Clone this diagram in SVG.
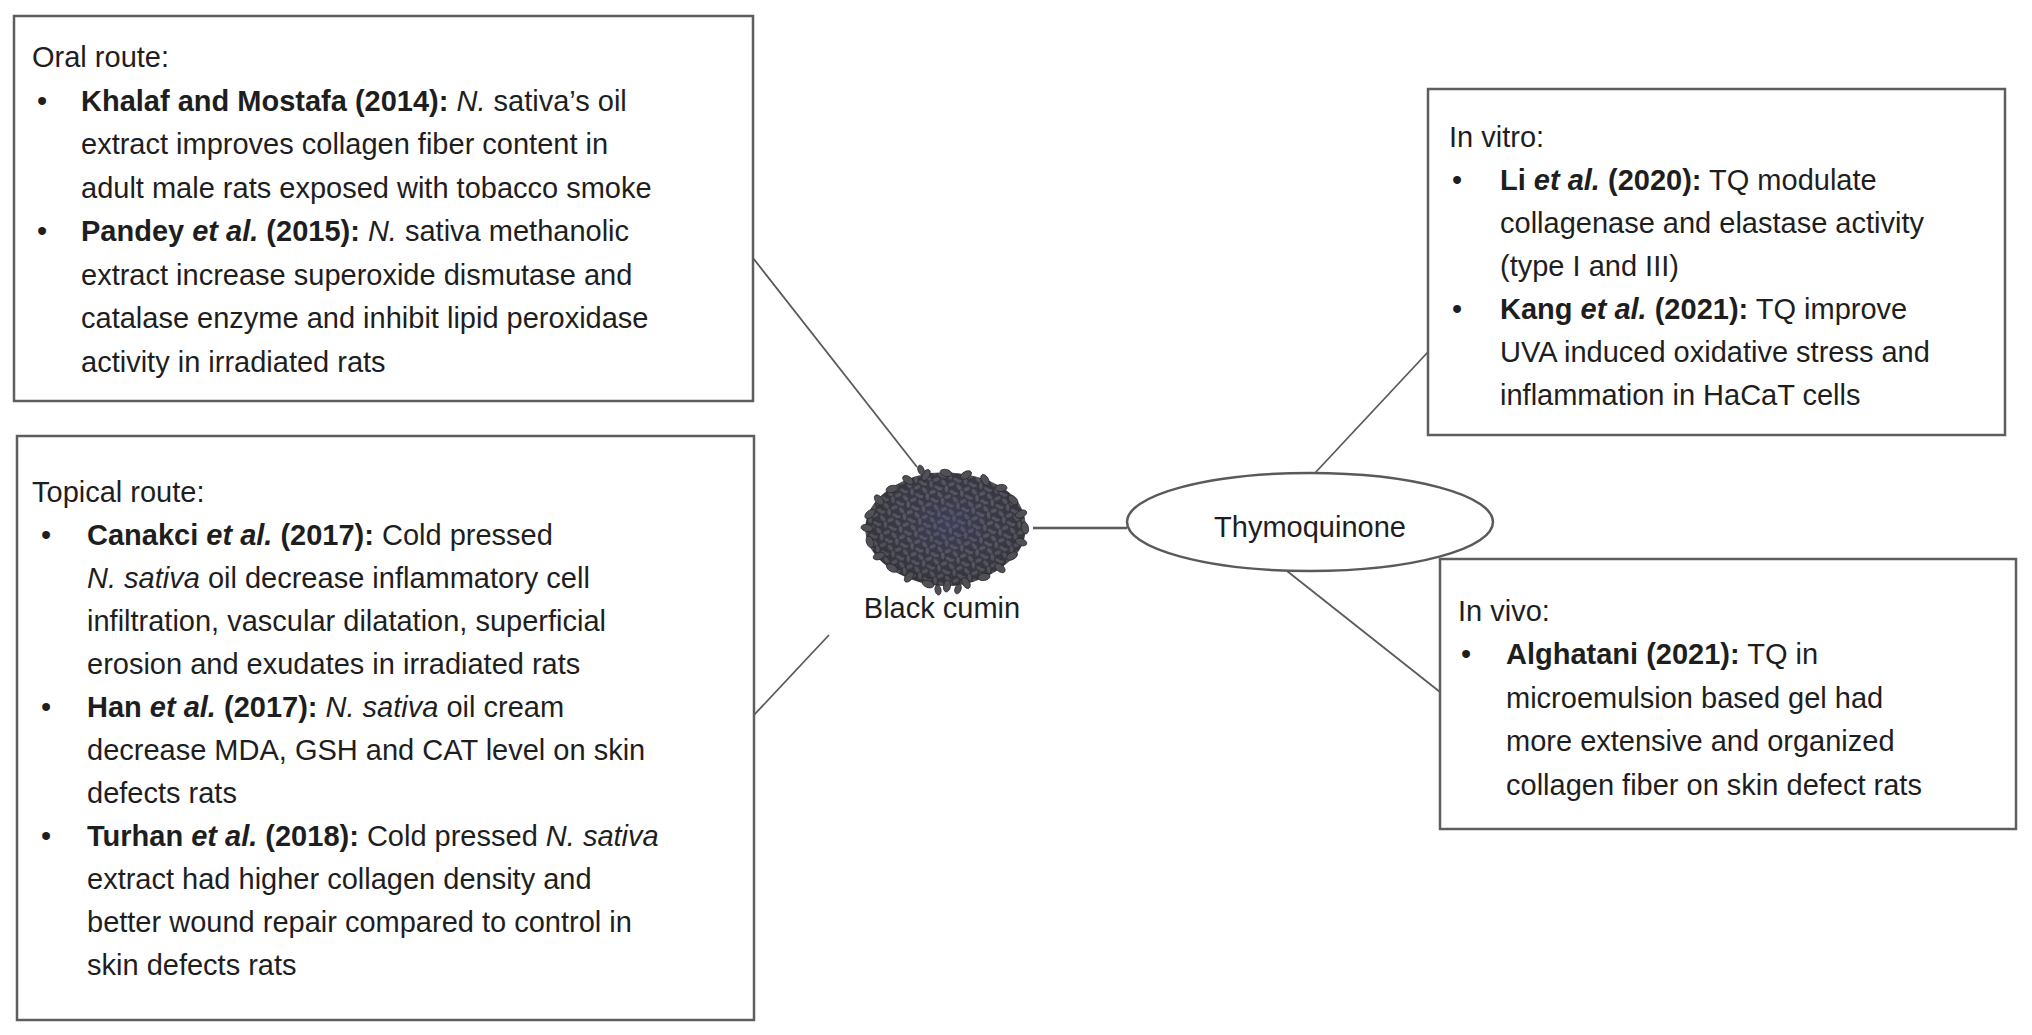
<svg xmlns="http://www.w3.org/2000/svg" width="2032" height="1035" viewBox="0 0 2032 1035">
<style>
.t{font-family:"Liberation Sans",Arial,sans-serif;font-size:29px;fill:#1e1e1e}
.b{font-weight:bold}
.i{font-style:italic}
.box{fill:#fff;stroke:#5e5e5e;stroke-width:2.5}
.conn{stroke:#5a5a5a;stroke-width:1.8;fill:none}
.seed{fill:#5e5e68;stroke:#2e2e34;stroke-width:0.8}
</style>
<defs>
<pattern id="seeds" width="16" height="13" patternUnits="userSpaceOnUse" patternTransform="rotate(17)">
<rect width="16" height="13" fill="#3a3a40"/>
<ellipse class="seed" cx="3.6" cy="3.6" rx="4" ry="2.4" transform="rotate(30 3.6 3.6)" fill="#64647a"/>
<ellipse class="seed" cx="11.6" cy="2.9" rx="4" ry="2.4" transform="rotate(-40 11.6 2.9)"/>
<ellipse class="seed" cx="8" cy="8.7" rx="4" ry="2.4" transform="rotate(70 8 8.7)" fill="#606076"/>
<ellipse class="seed" cx="14.5" cy="10.1" rx="3.6" ry="2.2" transform="rotate(10 14.5 10.1)"/>
<ellipse class="seed" cx="1.4" cy="10.8" rx="3.6" ry="2.2" transform="rotate(-20 1.4 10.8)"/>
</pattern>
<radialGradient id="shade" cx="0.52" cy="0.45" r="0.55">
<stop offset="0" stop-color="#45457a" stop-opacity="0.4"/>
<stop offset="0.55" stop-color="#3a3a5a" stop-opacity="0.2"/>
<stop offset="1" stop-color="#222" stop-opacity="0.25"/>
</radialGradient>
</defs>
<rect width="2032" height="1035" fill="#fff"/>

<g id="connectors">
<line class="conn" x1="753" y1="258" x2="917" y2="467"/>
<line class="conn" x1="754" y1="715" x2="829" y2="635"/>
<line class="conn" x1="1033" y1="528" x2="1127" y2="528" style="stroke-width:2.5"/>
<line class="conn" x1="1315" y1="473" x2="1428" y2="352"/>
<line class="conn" x1="1287" y1="571" x2="1440" y2="692"/>
</g>

<g id="oral">
<rect class="box" x="14" y="16" width="739" height="385"/>
<text class="t" x="32" y="67">Oral route:</text>
<text class="t" x="37" y="111">•</text>
<text class="t" x="81" y="111"><tspan class="b">Khalaf and Mostafa (2014):</tspan> <tspan class="i">N.</tspan> sativa’s oil</text>
<text class="t" x="81" y="154">extract improves collagen fiber content in</text>
<text class="t" x="81" y="198">adult male rats exposed with tobacco smoke</text>
<text class="t" x="37" y="241">•</text>
<text class="t" x="81" y="241"><tspan class="b">Pandey <tspan class="i">et al.</tspan> (2015):</tspan> <tspan class="i">N.</tspan> sativa methanolic</text>
<text class="t" x="81" y="285">extract increase superoxide dismutase and</text>
<text class="t" x="81" y="328">catalase enzyme and inhibit lipid peroxidase</text>
<text class="t" x="81" y="372">activity in irradiated rats</text>
</g>

<g id="topical">
<rect class="box" x="17" y="436" width="737" height="584"/>
<text class="t" x="32" y="502">Topical route:</text>
<text class="t" x="41" y="545">•</text>
<text class="t" x="87" y="545"><tspan class="b">Canakci <tspan class="i">et al.</tspan> (2017):</tspan> Cold pressed</text>
<text class="t" x="87" y="588"><tspan class="i">N. sativa</tspan> oil decrease inflammatory cell</text>
<text class="t" x="87" y="631">infiltration, vascular dilatation, superficial</text>
<text class="t" x="87" y="674">erosion and exudates in irradiated rats</text>
<text class="t" x="41" y="717">•</text>
<text class="t" x="87" y="717"><tspan class="b">Han <tspan class="i">et al.</tspan> (2017):</tspan> <tspan class="i">N. sativa</tspan> oil cream</text>
<text class="t" x="87" y="760">decrease MDA, GSH and CAT level on skin</text>
<text class="t" x="87" y="803">defects rats</text>
<text class="t" x="41" y="846">•</text>
<text class="t" x="87" y="846"><tspan class="b">Turhan <tspan class="i">et al.</tspan> (2018):</tspan> Cold pressed <tspan class="i">N. sativa</tspan></text>
<text class="t" x="87" y="889">extract had higher collagen density and</text>
<text class="t" x="87" y="932">better wound repair compared to control in</text>
<text class="t" x="87" y="975">skin defects rats</text>
</g>

<g id="black-cumin">
<path d="M868,515 C875,495 900,478 930,473 C960,470 995,478 1012,495 C1028,510 1030,535 1018,552 C1002,572 975,585 950,586 C922,587 895,575 880,560 C866,546 862,530 868,515 Z" fill="url(#seeds)"/>
<path d="M868,515 C875,495 900,478 930,473 C960,470 995,478 1012,495 C1028,510 1030,535 1018,552 C1002,572 975,585 950,586 C922,587 895,575 880,560 C866,546 862,530 868,515 Z" fill="url(#shade)"/>
<g fill="#505056" stroke="#2a2a2e" stroke-width="0.8">
<ellipse cx="1025" cy="528" rx="6" ry="3.5" transform="rotate(80 1025 528)"/>
<ellipse cx="1021" cy="542" rx="6" ry="3.5" transform="rotate(20 1021 542)"/>
<ellipse cx="1012" cy="556" rx="6" ry="3.5" transform="rotate(-30 1012 556)"/>
<ellipse cx="1000" cy="568" rx="6" ry="3.5" transform="rotate(40 1000 568)"/>
<ellipse cx="984" cy="577" rx="6" ry="3.5" transform="rotate(-10 984 577)"/>
<ellipse cx="966" cy="583" rx="6" ry="3.5" transform="rotate(60 966 583)"/>
<ellipse cx="947" cy="586" rx="6" ry="3.5" transform="rotate(100 947 586)"/>
<ellipse cx="928" cy="584" rx="6" ry="3.5" transform="rotate(20 928 584)"/>
<ellipse cx="909" cy="577" rx="6" ry="3.5" transform="rotate(-50 909 577)"/>
<ellipse cx="892" cy="568" rx="6" ry="3.5" transform="rotate(30 892 568)"/>
<ellipse cx="879" cy="556" rx="6" ry="3.5" transform="rotate(-20 879 556)"/>
<ellipse cx="870" cy="542" rx="6" ry="3.5" transform="rotate(70 870 542)"/>
<ellipse cx="867" cy="528" rx="6" ry="3.5" transform="rotate(10 867 528)"/>
<ellipse cx="870" cy="514" rx="6" ry="3.5" transform="rotate(-40 870 514)"/>
<ellipse cx="879" cy="500" rx="6" ry="3.5" transform="rotate(50 879 500)"/>
<ellipse cx="892" cy="489" rx="6" ry="3.5" transform="rotate(-15 892 489)"/>
<ellipse cx="908" cy="480" rx="6" ry="3.5" transform="rotate(35 908 480)"/>
<ellipse cx="926" cy="475" rx="6" ry="3.5" transform="rotate(-60 926 475)"/>
<ellipse cx="946" cy="473" rx="6" ry="3.5" transform="rotate(15 946 473)"/>
<ellipse cx="966" cy="475" rx="6" ry="3.5" transform="rotate(-30 966 475)"/>
<ellipse cx="985" cy="480" rx="6" ry="3.5" transform="rotate(60 985 480)"/>
<ellipse cx="1001" cy="488" rx="6" ry="3.5" transform="rotate(-5 1001 488)"/>
<ellipse cx="1013" cy="500" rx="6" ry="3.5" transform="rotate(45 1013 500)"/>
<ellipse cx="1021" cy="514" rx="6" ry="3.5" transform="rotate(-25 1021 514)"/>
<ellipse cx="938" cy="590" rx="5" ry="3" transform="rotate(80 938 590)"/>
<ellipse cx="958" cy="589" rx="5" ry="3" transform="rotate(110 958 589)"/>
<ellipse cx="921" cy="470" rx="5" ry="3" transform="rotate(70 921 470)"/>
</g>
<text class="t" x="942" y="618" text-anchor="middle">Black cumin</text>
</g>

<g id="thymoquinone">
<ellipse cx="1310" cy="522" rx="183" ry="49" fill="#fff" stroke="#5a5a5a" stroke-width="2.5"/>
<text class="t" x="1310" y="537" text-anchor="middle">Thymoquinone</text>
</g>

<g id="in-vitro">
<rect class="box" x="1428" y="89" width="577" height="346"/>
<text class="t" x="1449" y="147">In vitro:</text>
<text class="t" x="1452" y="190">•</text>
<text class="t" x="1500" y="190"><tspan class="b">Li <tspan class="i">et al.</tspan> (2020):</tspan> TQ modulate</text>
<text class="t" x="1500" y="233">collagenase and elastase activity</text>
<text class="t" x="1500" y="276">(type I and III)</text>
<text class="t" x="1452" y="319">•</text>
<text class="t" x="1500" y="319"><tspan class="b">Kang <tspan class="i">et al.</tspan> (2021):</tspan> TQ improve</text>
<text class="t" x="1500" y="362">UVA induced oxidative stress and</text>
<text class="t" x="1500" y="405">inflammation in HaCaT cells</text>
</g>

<g id="in-vivo">
<rect class="box" x="1440" y="559" width="576" height="270"/>
<text class="t" x="1458" y="621">In vivo:</text>
<text class="t" x="1461" y="664">•</text>
<text class="t" x="1506" y="664"><tspan class="b">Alghatani (2021):</tspan> TQ in</text>
<text class="t" x="1506" y="708">microemulsion based gel had</text>
<text class="t" x="1506" y="751">more extensive and organized</text>
<text class="t" x="1506" y="795">collagen fiber on skin defect rats</text>
</g>
</svg>
